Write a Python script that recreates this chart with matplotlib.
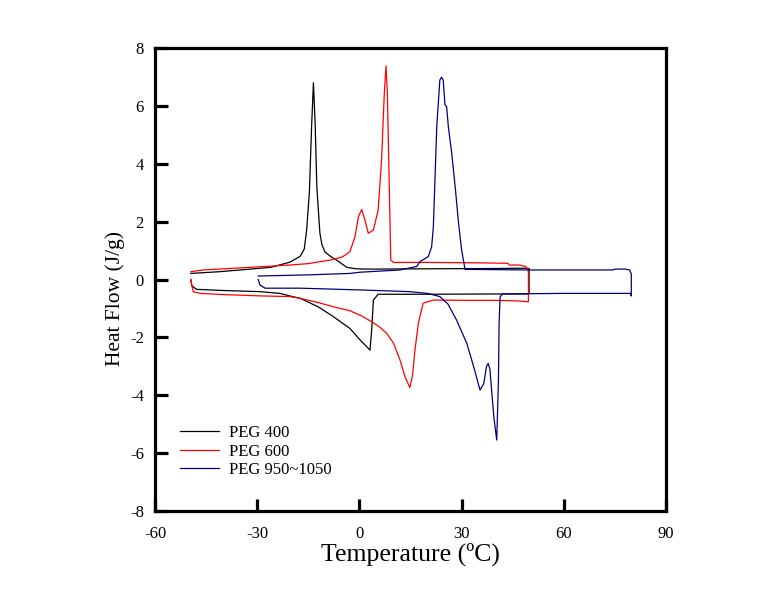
import matplotlib
matplotlib.use('Agg')
import matplotlib.pyplot as plt

plt.rcParams['font.family'] = ['Liberation Serif', 'DejaVu Serif']
plt.rcParams['axes.unicode_minus'] = False

# PEG 400: heating from -50 to 50, then cooling back to -50
peg400_x = [-49.5, -49.2, -47.8, -40, -29.2, -23.3, -20.4, -17.4, -12, -7.7, -2.8, 0.2, 3.1, 3.6, 4.1, 5.5,
            20, 40, 49.8, 49.8, 48, 40, 20, 5, 2, -1, -3.7, -6.7, -8.5, -10.1, -11, -11.6, -12.5, -13.0,
            -13.5, -14.0, -14.7, -15.5, -16.2, -17.4, -20.4, -26, -33, -41, -49.5]
peg400_y = [0.0, -0.22, -0.34, -0.38, -0.42, -0.48, -0.57, -0.65, -0.95, -1.28, -1.69, -2.09, -2.44, -1.74, -0.71, -0.51,
            -0.51, -0.5, -0.5, 0.38, 0.39, 0.38, 0.37, 0.36, 0.36, 0.37, 0.42, 0.67, 0.8, 0.95, 1.2, 1.6, 3.2, 5.4,
            6.8, 5.4, 3.0, 1.7, 1.05, 0.8, 0.6, 0.42, 0.35, 0.27, 0.21]

# PEG 600
peg600_x = [-49.5, -48.8, -46.8, -40, -28.2, -20.4, -17.4, -12, -7.7, -2.8, 0.5, 3.6, 6, 8.0, 10, 11.9, 13.5, 14.8,
            15.6, 16.3, 17.3, 18.7, 21.7, 30, 40, 46.5, 49.6, 49.6, 49.5, 48.8, 47, 44, 43.6, 32.5, 20, 10, 9.2,
            8.8, 8.2, 7.8, 7.3, 6.5, 5.5, 4.1, 2.6, 1.6, 0.67, -0.3, -1.3, -2.8, -5, -8.6, -15, -20.4, -32.1,
            -45.8, -49.5]
peg600_y = [0.0, -0.42, -0.48, -0.52, -0.57, -0.59, -0.65, -0.8, -0.94, -1.08, -1.25, -1.46, -1.65, -1.86, -2.2,
            -2.78, -3.4, -3.73, -3.3, -2.44, -1.51, -0.82, -0.71, -0.72, -0.72, -0.74, -0.77, 0.2, 0.35, 0.45, 0.5,
            0.5, 0.56, 0.58, 0.59, 0.59, 0.67, 2.98, 6.43, 7.38, 6.43, 4.13, 2.4, 1.71, 1.6, 2.06, 2.42, 2.17, 1.48,
            0.96, 0.78, 0.67, 0.55, 0.5, 0.42, 0.33, 0.27]

# PEG 950~1050
peg1000_x = [-29.7, -29.2, -27.7, -17.4, 0, 14.8, 20, 23.6, 26, 28.5, 31.5, 33.5, 35.4, 36.5, 37.3, 37.8, 38.3,
             38.8, 39.5, 40.3, 40.8, 41.0, 41.3, 42, 60, 79.6, 79.8, 79.8, 79.3, 78, 75, 74.4, 50, 31, 30.0,
             29.1, 28.1, 27.1, 26.1, 25.6, 25.1, 24.6, 24.1, 23.6, 22.7, 22.2, 21.7, 21.2, 20.2, 17.8, 16.8,
             11.9, 0, -2.8, -15, -29.7]
peg1000_y = [0.0, -0.19, -0.3, -0.3, -0.36, -0.42, -0.48, -0.59, -0.85, -1.4, -2.2, -3.0, -3.82, -3.6, -3.0, -2.9,
             -3.1, -3.82, -4.8, -5.55, -3.5, -1.5, -0.6, -0.5, -0.48, -0.48, -0.57, 0.2, 0.33, 0.36, 0.36, 0.33,
             0.33, 0.35, 1.02, 1.94, 3.21, 4.36, 5.28, 5.97, 6.05, 6.89, 6.99, 6.89, 5.28, 3.55, 1.82, 1.13, 0.79,
             0.62, 0.45, 0.33, 0.25, 0.21, 0.16, 0.12]

fig = plt.figure(figsize=(7.77, 6.04), dpi=100)
ax = fig.add_axes([0.1995, 0.154, 0.6577, 0.7665])

ax.plot(peg400_x, peg400_y, color='black', lw=0.9, label='PEG 400')
ax.plot(peg600_x, peg600_y, color='red', lw=0.9, label='PEG 600')
ax.plot(peg1000_x, peg1000_y, color='#000080', lw=0.9, label='PEG 950~1050')

ax.set_xlim(-60, 90)
ax.set_ylim(-8, 8)
ax.set_xticks([-60, -30, 0, 30, 60, 90])
ax.set_yticks([-8, -6, -4, -2, 0, 2, 4, 6, 8])
for s in ax.spines.values():
    s.set_linewidth(2.3)
ax.tick_params(direction='in', length=9, width=2.3, labelsize=12, top=False, right=False)
ax.tick_params(axis='x', pad=11)
ax.tick_params(axis='y', pad=8)

ax.set_xlabel('Temperature (ºC)', fontsize=18.5, labelpad=0)
ax.set_ylabel('Heat Flow (J/g)', fontsize=15.5)
ax.yaxis.set_label_coords(-0.058, 0.458)

ax.legend(loc='upper left', bbox_to_anchor=(0.02, 0.218), frameon=False, fontsize=12,
          handlelength=2.3, handletextpad=0.6, labelspacing=0.15)

fig.savefig('out.png', dpi=100)
